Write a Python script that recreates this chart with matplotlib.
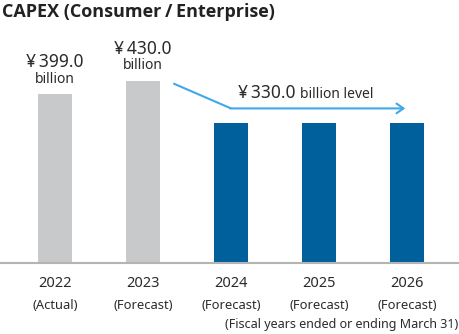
import matplotlib
matplotlib.use("Agg")
import matplotlib.pyplot as plt

plt.rcParams["font.family"] = ["Noto Sans", "Noto Sans CJK JP", "DejaVu Sans"]

years = ["2022", "2023", "2024", "2025", "2026"]
kinds = ["(Actual)", "(Forecast)", "(Forecast)", "(Forecast)", "(Forecast)"]
capex = [399.0, 430.0, 330.0, 330.0, 330.0]
colors = ["#c8c9ca", "#c8c9ca", "#00609c", "#00609c", "#00609c"]
labeled = [0, 1]
level = 330.0


def main():
    fig = plt.figure(figsize=(4.6, 3.34), dpi=100)
    ax = fig.add_axes([0, 71 / 334, 1, 263 / 334])
    x = list(range(len(years)))
    ax.bar(x, capex, width=0.38, color=colors, zorder=2)
    ax.set_xlim(-0.625, 4.602)
    ax.set_ylim(0, 621)
    for side in ["left", "right", "top"]:
        ax.spines[side].set_visible(False)
    ax.spines["bottom"].set_color("#b4b4b4")
    ax.spines["bottom"].set_linewidth(1.5)
    ax.set_yticks([])
    ax.set_xticks([])

    txt = "#2b2b2b"
    for i in x:
        ax.annotate(years[i], (i, 0), xycoords=("data", "axes fraction"),
                    xytext=(0, -17.3), textcoords="offset points",
                    ha="center", va="baseline", fontsize=10.5, color=txt)
        ax.annotate(kinds[i], (i, 0), xycoords=("data", "axes fraction"),
                    xytext=(0, -29.5), textcoords="offset points",
                    ha="center", va="center_baseline", fontsize=9.3, color=txt)

    for i in labeled:
        ax.text(i, capex[i] + 63, f"¥\u2009{capex[i]:.1f}", ha="center",
                va="baseline", fontsize=12.5, color=txt)
        ax.text(i, capex[i] + 27, "billion", ha="center", va="baseline",
                fontsize=10, color=txt)

    # trend arrow toward the flat level
    arrow_c = "#3fa9e6"
    arrow_y = level + 35
    ax.plot([1.344, 2.0], [424, arrow_y], color=arrow_c, lw=1.5, zorder=3,
            solid_capstyle="butt")
    ax.annotate("", xy=(3.98, arrow_y), xytext=(1.99, arrow_y),
                arrowprops=dict(arrowstyle="->,head_length=0.5,head_width=0.35",
                                color=arrow_c, lw=1.5, shrinkA=0, shrinkB=0))
    ax.text(2.73, level + 59, "¥\u2009330.0", ha="right", va="baseline",
            fontsize=12.5, color=txt)
    ax.text(2.78, level + 59, "billion level", ha="left", va="baseline",
            fontsize=10, color=txt)

    fig.text(0.004, 0.99, "CAPEX (Consumer\u2009/\u2009Enterprise)", ha="left",
             va="top", fontsize=13, fontweight="bold", color="#222222",
             family=["Open Sans", "DejaVu Sans"])
    fig.text(0.996, 0.008, "(Fiscal years ended or ending March 31)", ha="right",
             va="bottom", fontsize=9, color=txt)

    fig.savefig("out.png", dpi=100)


if __name__ == "__main__":
    main()
